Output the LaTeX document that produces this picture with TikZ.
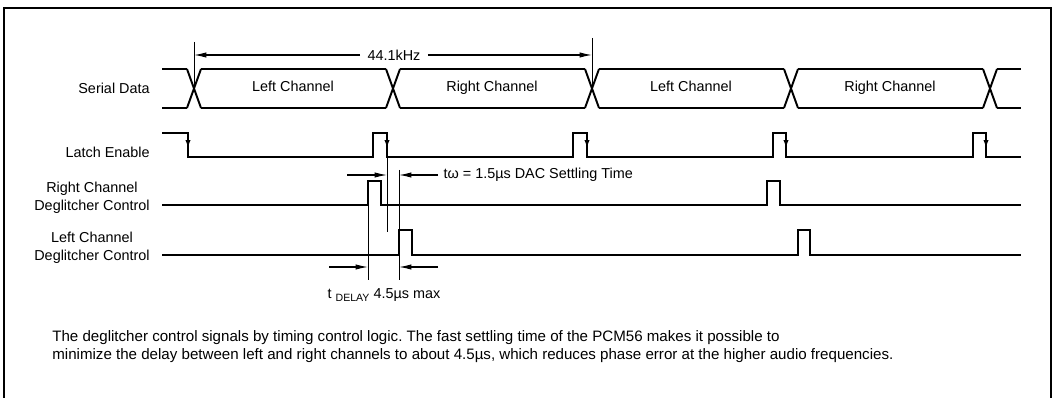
\documentclass[tikz,border=0pt]{standalone}
\usepackage{fontspec}
\setmainfont{Liberation Sans}
\usetikzlibrary{arrows.meta}

\begin{document}
\frenchspacing
\begin{tikzpicture}[x=0.02cm,y=-0.02cm,>={Latex[length=7pt,width=3pt]}]
  \tikzstyle{signal}=[line width=1.1pt,line join=miter]
  \tikzstyle{marker}=[line width=0.5pt]
  \tikzstyle{dim}=[->,line width=0.6pt]
  \tikzstyle{edge}=[-{Latex[length=4.5pt,width=3pt]},line width=0.8pt]
  \tikzstyle{txt}=[font=\fontsize{8.2}{10}\selectfont,inner sep=0pt]
  \tikzstyle{chan}=[txt,text height=6pt,text depth=1.7pt]
  \tikzstyle{note}=[txt,anchor=west,font=\fontsize{8.6}{10}\selectfont]
  \useasboundingbox (0,0) rectangle (1055,398);
  \draw[line width=1.1pt] (4,398) -- (4,8) -- (1051,8) -- (1051,398);

  \node[txt,anchor=east] (sd) at (150,88) {Serial Data};
  \node[txt,anchor=east] (le) at (150,152) {Latch Enable};
  \node[txt,anchor=east,align=center] (rc) at (150,198) {Right Channel\\Deglitcher Control};
  \node[txt,anchor=east,align=center] (lc) at (150,248) {Left Channel\\Deglitcher Control};

  \foreach \a/\b in {155/194,194/393,393/592,592/791,791/990,990/1028}
    \draw[signal] (\a+7,69) -- (\b-7,69) (\a+7,108) -- (\b-7,108);
  \foreach \c in {194,393,592,791,990}
    \draw[signal] (\c-7,69) -- (\c+7,108) (\c-7,108) -- (\c+7,69);
  \foreach \x/\t/\n in {293/Left/1,492/Right/2,691/Left/3,890/Right/4}
    \node[chan] (ch\n) at (\x,88) {\t\ Channel};

  \draw[signal] (162,133) -- (188,133) -- (188,157) -- (373,157) -- (373,133) -- (387,133)
    -- (387,157) -- (573,157) -- (573,133) -- (587,133) -- (587,157) -- (773,157) -- (773,133)
    -- (786,133) -- (786,157) -- (973,157) -- (973,133) -- (986,133) -- (986,157) -- (1021,157);
  \foreach \x in {188,387,587,786,986}
    \draw[edge] (\x,134) -- (\x,148);

  \draw[signal] (162,205) -- (368,205) -- (368,181) -- (381,181) -- (381,205) -- (767,205)
    -- (767,181) -- (780,181) -- (780,205) -- (1021,205);
  \draw[signal] (162,255) -- (399,255) -- (399,230) -- (412,230) -- (412,255) -- (798,255)
    -- (798,230) -- (810,230) -- (810,255) -- (1021,255);

  \coordinate (m1) at (194,42);
  \coordinate (m2) at (592,38);
  \coordinate (f1) at (194,55);
  \coordinate (f2) at (592,55);
  \draw[marker] (m1) -- (194,88);
  \draw[marker] (m2) -- (592,88);
  \node[txt,inner xsep=4pt] (freq) at (394,55) {44.1kHz};
  \draw[dim] (freq.west) -- (f1);
  \draw[dim] (freq.east) -- (f2);

  \coordinate (w1) at (387,175);
  \coordinate (w2) at (399,175);
  \coordinate (w0) at (347,175);
  \draw[marker] (387,157) -- (387,232);
  \draw[marker] (399,170) -- (399,280);
  \draw[marker] (368,205) -- (368,280);
  \node[txt,anchor=west,inner xsep=3pt] (tw) at (438,175) {tω = 1.5µs DAC Settling Time};
  \draw[dim] (w0) -- (w1);
  \draw[dim] (tw.west) -- (w2);

  \coordinate (d0) at (329,267);
  \coordinate (d1) at (368,267);
  \coordinate (d2) at (399,267);
  \coordinate (d3) at (438,267);
  \draw[dim] (d0) -- (d1);
  \draw[dim] (d3) -- (d2);
  \node[txt] (td) at (384,295) {t {\fontsize{6}{7}\selectfont\raisebox{-0.5ex}{DELAY}} 4.5µs max};

  \node[note] (cap1) at (52,338) {The deglitcher control signals by timing control logic. The fast settling time of the PCM56 makes it possible to};
  \node[note] (cap2) at (52,356) {minimize the delay between left and right channels to about 4.5µs, which reduces phase error at the higher audio frequencies.};
\end{tikzpicture}
\end{document}
